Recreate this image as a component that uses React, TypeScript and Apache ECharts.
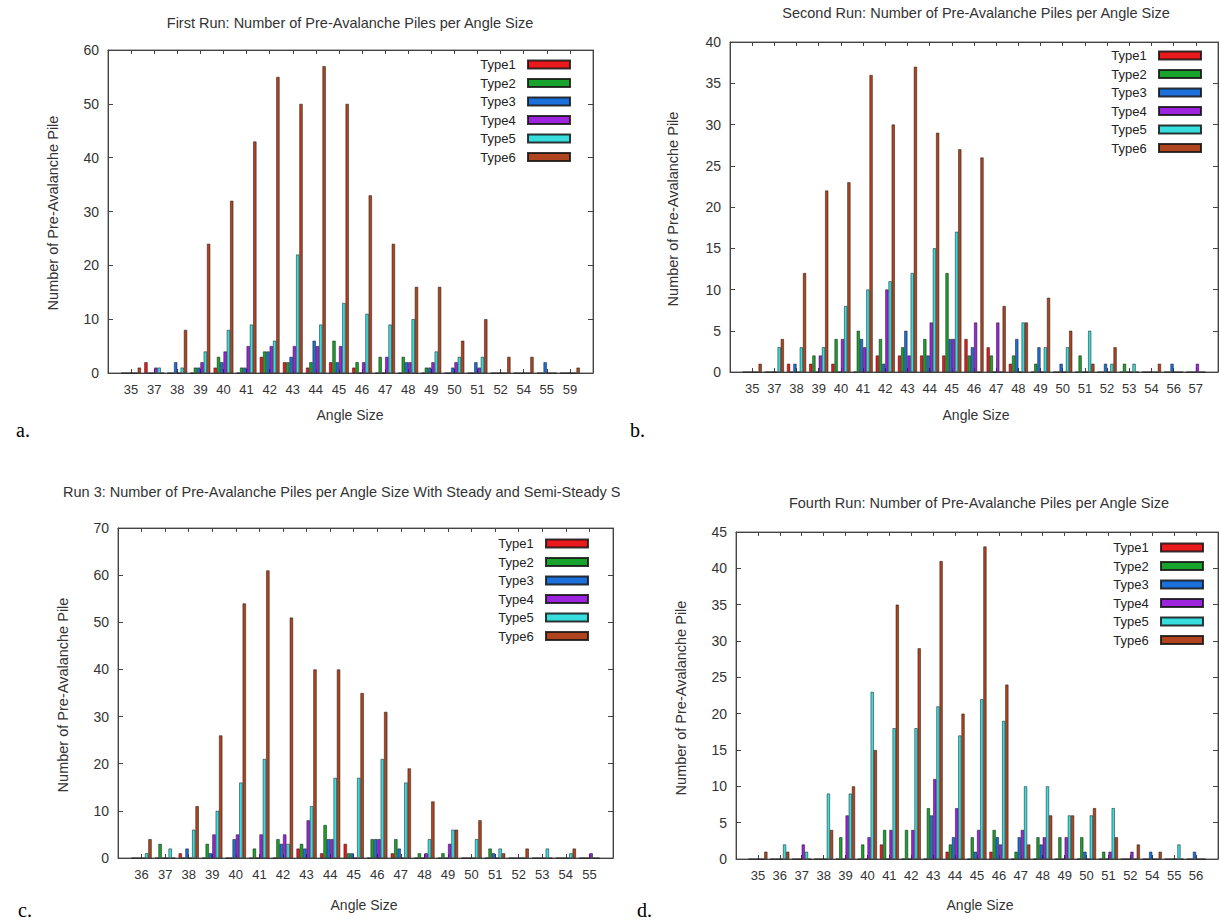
import React, { useEffect, useRef } from "react";
import * as echarts from "echarts";

const typeNames = ["Type1", "Type2", "Type3", "Type4", "Type5", "Type6"];
const typeColors = ["#ea1a1c", "#18a42c", "#1c70dc", "#9c24dc", "#38dede", "#b0441e"];

// First run
const catsA = ["35","37","38","39","40","41","42","43","44","45","46","47","48","49","50","51","52","54","55","59"];
const a1 = [0,2,0,0,1,0,3,2,1,2,1,0,0,0,0,0,0,0,0,0];
const a2 = [0,0,0,1,3,1,4,2,2,6,2,3,3,1,0,0,0,0,0,0];
const a3 = [0,0,2,1,2,1,4,3,6,2,0,0,2,1,1,2,0,0,2,0];
const a4 = [0,1,0,2,4,5,5,5,5,5,2,3,2,2,2,1,0,0,0,0];
const a5 = [0,1,1,4,8,9,6,22,9,13,11,9,10,4,3,3,0,0,0,0];
const a6 = [1,0,8,24,32,43,55,50,57,50,33,24,16,16,6,10,3,3,0,1];

// Second run
const catsB = ["35","37","38","39","40","41","42","43","44","45","46","47","48","49","50","51","52","53","54","56","57"];
const b1 = [0,0,1,1,1,0,2,2,2,2,4,3,1,0,0,0,0,0,0,0,0];
const b2 = [0,0,0,2,4,5,4,3,4,12,2,2,2,1,0,2,0,1,0,0,0];
const b3 = [0,0,1,0,0,4,1,5,2,4,3,0,4,3,1,0,1,0,0,1,0];
const b4 = [0,0,0,2,4,3,10,2,6,4,6,6,0,0,0,0,0,0,0,0,1];
const b5 = [0,3,3,3,8,10,11,12,15,17,0,0,6,3,3,5,1,1,0,0,0];
const b6 = [1,4,12,22,23,36,30,37,29,27,26,8,6,9,5,1,3,0,1,0,0];

// Run 3
const catsC = ["36","37","38","39","40","41","42","43","44","45","46","47","48","49","50","51","52","53","54","55"];
const c1 = [0,0,1,0,0,0,0,2,1,3,0,1,0,0,0,0,0,0,0,0];
const c2 = [0,3,0,3,0,2,4,3,7,1,4,4,1,1,0,2,0,0,0,0];
const c3 = [0,0,2,1,4,0,3,2,4,1,4,2,0,0,0,1,0,0,0,0];
const c4 = [0,0,0,5,5,5,5,8,4,0,4,0,1,3,0,0,0,0,0,1];
const c5 = [1,2,6,10,16,21,3,11,17,17,21,16,4,6,4,2,0,2,1,0];
const c6 = [4,0,11,26,54,61,51,40,40,35,31,19,12,6,8,1,2,0,2,0];

// Fourth run
const catsD = ["35","36","37","38","39","40","41","42","43","44","45","46","47","48","49","50","51","52","54","55","56"];
const d1 = [0,0,0,0,0,0,2,0,0,1,0,1,0,0,0,0,0,0,0,0,0];
const d2 = [0,0,0,0,3,2,4,4,7,2,3,4,1,3,3,3,1,0,0,0,0];
const d3 = [0,0,0,0,0,0,0,0,6,3,1,3,3,2,0,1,0,0,1,0,1];
const d4 = [0,0,2,0,6,3,4,4,11,7,4,2,4,3,3,0,1,1,0,0,0];
const d5 = [0,2,1,9,9,23,18,18,21,17,22,19,10,10,6,6,7,0,0,2,0];
const d6 = [1,1,0,4,10,15,35,29,41,20,43,24,2,6,6,7,3,2,1,0,0];

const titleA = "First Run: Number of Pre-Avalanche Piles per Angle Size";
const titleB = "Second Run: Number of Pre-Avalanche Piles per Angle Size";
const titleC = "Run 3: Number of Pre-Avalanche Piles per Angle Size With Steady and Semi-Steady S";
const titleD = "Fourth Run: Number of Pre-Avalanche Piles per Angle Size";
const yName = "Number of Pre-Avalanche Pile";
const xName = "Angle Size";

const FONT = "'Liberation Sans', Arial, sans-serif";
const TXT = "#333";

const panels = [
  { cats: catsA, data: [a1, a2, a3, a4, a5, a6], yMax: 60, yInt: 10,
    grid: { left: 108, top: 50, width: 485, height: 323 },
    title: titleA, titleX: 350, titleY: 23, titleAlign: "center",
    yNameX: 53, yNameY: 213, xNameX: 350, xNameY: 415,
    legendRight: 645, legendTop: 53, letter: "a.", letterX: 16, letterY: 430 },
  { cats: catsB, data: [b1, b2, b3, b4, b5, b6], yMax: 40, yInt: 5,
    grid: { left: 730, top: 42, width: 492, height: 330 },
    title: titleB, titleX: 976, titleY: 13, titleAlign: "center",
    yNameX: 673, yNameY: 209, xNameX: 976, xNameY: 415,
    legendRight: 14, legendTop: 44, letter: "b.", letterX: 630, letterY: 430 },
  { cats: catsC, data: [c1, c2, c3, c4, c5, c6], yMax: 70, yInt: 10,
    grid: { left: 118, top: 528, width: 495, height: 330 },
    title: titleC, titleX: 63, titleY: 492, titleAlign: "left",
    yNameX: 63, yNameY: 695, xNameX: 364, xNameY: 905,
    legendRight: 627, legendTop: 532, letter: "c.", letterX: 18, letterY: 910 },
  { cats: catsD, data: [d1, d2, d3, d4, d5, d6], yMax: 45, yInt: 5,
    grid: { left: 736, top: 532, width: 489, height: 327 },
    title: titleD, titleX: 979, titleY: 503, titleAlign: "center",
    yNameX: 681, yNameY: 698, xNameX: 980, xNameY: 905,
    legendRight: 12, legendTop: 536, letter: "d.", letterX: 637, letterY: 910 },
];

function buildOption() {
  const grid: any[] = [];
  const xAxis: any[] = [];
  const yAxis: any[] = [];
  const series: any[] = [];
  const legend: any[] = [];
  const graphic: any[] = [];

  panels.forEach((p, pi) => {
    const n = p.cats.length;
    grid.push({ ...p.grid, show: true, borderColor: "#666", borderWidth: 1, backgroundColor: "transparent" });
    const baseX = {
      type: "value", gridIndex: pi, min: -1, max: n, interval: 1,
      splitLine: { show: false },
      axisLine: { show: true, onZero: false, lineStyle: { color: "#444", width: 1 } },
      axisTick: { show: true, inside: true, length: 4, lineStyle: { color: "#444" } },
    };
    xAxis.push({
      ...baseX, position: "bottom",
      axisLabel: {
        show: true, margin: 10, fontSize: 13, fontFamily: FONT, color: TXT,
        formatter: (v: number) => (Number.isInteger(v) && v >= 0 && v < n ? p.cats[v] : ""),
      },
    });
    xAxis.push({ ...baseX, position: "top", axisLabel: { show: false } });
    const baseY = {
      type: "value", gridIndex: pi, min: 0, max: p.yMax, interval: p.yInt,
      splitLine: { show: false },
      axisLine: { show: true, onZero: false, lineStyle: { color: "#444", width: 1 } },
      axisTick: { show: true, inside: true, length: 5, lineStyle: { color: "#444" } },
    };
    yAxis.push({
      ...baseY, position: "left",
      axisLabel: { show: true, margin: 9, fontSize: 14, fontFamily: FONT, color: TXT },
    });
    yAxis.push({ ...baseY, position: "right", axisLabel: { show: false } });

    const catPx = p.grid.width / (n + 1);
    const bw = catPx / 7;
    p.data.forEach((vals, ti) => {
      series.push({
        type: "bar",
        name: typeNames[ti],
        xAxisIndex: pi * 2,
        yAxisIndex: pi * 2,
        barWidth: bw,
        barGap: "0%",
        itemStyle: { color: typeColors[ti], borderColor: "rgba(20,20,20,0.85)", borderWidth: 0.6 },
        emphasis: { disabled: true },
        data: vals.map((v, i) => [i, v]),
      });
    });

    legend.push({
      orient: "vertical",
      right: p.legendRight,
      top: p.legendTop,
      align: "right",
      icon: "rect",
      itemWidth: 42,
      itemHeight: 8,
      itemGap: 5.5,
      selectedMode: false,
      data: typeNames,
      formatter: (name: string) => name + "  ",
      textStyle: { fontSize: 13, fontFamily: FONT, color: "#222", lineHeight: 13 },
    });

    graphic.push({
      type: "text", x: p.titleX, y: p.titleY,
      style: { text: p.title, fill: TXT, font: `14.5px ${FONT}`, textAlign: p.titleAlign, textVerticalAlign: "middle" },
    });
    graphic.push({
      type: "text", x: p.yNameX, y: p.yNameY, rotation: Math.PI / 2,
      style: { text: yName, fill: TXT, font: `14.5px ${FONT}`, textAlign: "center", textVerticalAlign: "middle" },
    });
    graphic.push({
      type: "text", x: p.xNameX, y: p.xNameY,
      style: { text: xName, fill: TXT, font: `14px ${FONT}`, textAlign: "center", textVerticalAlign: "middle" },
    });
    graphic.push({
      type: "text", x: p.letterX, y: p.letterY,
      style: { text: p.letter, fill: "#000", font: `20px 'Liberation Serif', 'Times New Roman', serif`, textAlign: "left", textVerticalAlign: "middle" },
    });
  });

  return {
    animation: false,
    backgroundColor: "#ffffff",
    grid, xAxis, yAxis, series, legend, graphic,
  };
}

export default function App() {
  const ref = useRef<HTMLDivElement>(null);
  useEffect(() => {
    if (!ref.current) return;
    const chart = echarts.init(ref.current, null, { renderer: "svg" });
    chart.setOption(buildOption() as any);
    return () => chart.dispose();
  }, []);
  return (
    <div
      ref={ref}
      style={{ position: "fixed", left: 0, top: 0, width: 1221, height: 920, background: "#fff" }}
    />
  );
}
